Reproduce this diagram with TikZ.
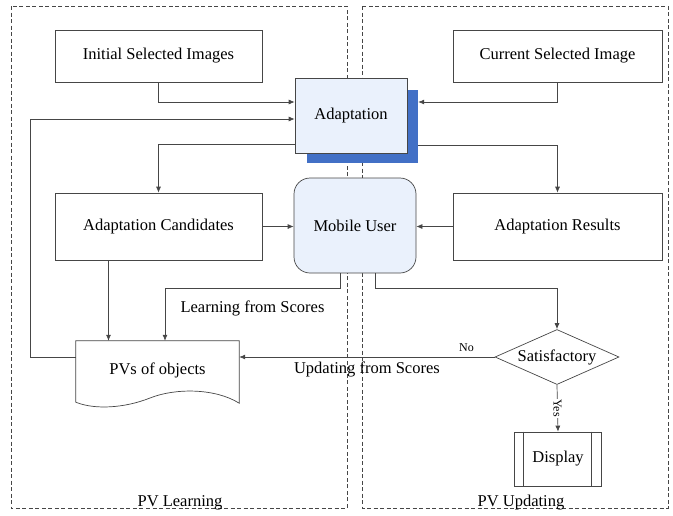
\documentclass[tikz,border=0pt]{standalone}
\usepackage{fontspec}
\setmainfont{Liberation Serif}
\usetikzlibrary{arrows.meta,positioning,calc,shapes.geometric}

\definecolor{linegray}{RGB}{70,70,70}
\definecolor{paleblue}{RGB}{234,241,252}
\definecolor{shadowblue}{RGB}{66,112,198}

\begin{document}
\begin{tikzpicture}[
  x=1pt, y=-1pt,
  >=Latex,
  font=\fontsize{16.5}{19}\selectfont,
  line/.style={-{Latex[length=6pt,width=5pt]}, draw=linegray, line width=0.7pt},
  box/.style={
    draw=linegray, line width=0.7pt, align=center, fill=white,
    minimum width=207pt, minimum height=52pt, inner sep=0pt
  },
  bluebox/.style={
    draw=linegray, line width=0.7pt, align=center, fill=paleblue,
    inner sep=0pt
  },
  region/.style={draw=linegray, dashed, dash pattern=on 4pt off 2.5pt, line width=0.6pt},
  small/.style={font=\fontsize{12}{14}\selectfont}
]
\useasboundingbox (0,0) rectangle (673,515);

% Dashed regions
\draw[region] (11,6) rectangle (347,508);
\draw[region] (362,6) rectangle (668,508);
\node (learnlbl) at (180,503) {PV Learning};
\node (updlbl) at (521,503) {PV Updating};

% Top row
\node[box] (init) at (158.5,56) {Initial Selected Images};
\node[box, minimum width=209pt] (curr) at (557.5,56) {Current Selected Image};

% Adaptation with shadow
\node[fill=shadowblue, minimum width=111pt, minimum height=73pt, inner sep=0pt] (shadow) at (362.5,126.5) {};
\node[bluebox, minimum width=112pt, minimum height=75pt] (adapt) at (351,115.5) {Adaptation};

% Middle row
\node[box, minimum height=67pt] (cand) at (158.5,226.5) {Adaptation Candidates};
\node[bluebox, rounded corners=16pt, minimum width=122pt, minimum height=95pt] (mobile) at (355,225.5) {Mobile User};
\node[box, minimum width=209pt, minimum height=67pt] (result) at (557.5,226.5) {Adaptation Results};

% PVs of objects (document)
\node[minimum width=163pt, minimum height=59pt, inner sep=0pt] (pv) at (157.5,370.5) {};
\draw[draw=linegray, line width=0.7pt, fill=white]
  (pv.north west) -- (pv.north east) -- ([yshift=-3pt]pv.south east)
  .. controls (215,388) and (175,388) .. (150,398)
  .. controls (125,408) and (95,410) .. ([yshift=-2pt]pv.south west) -- cycle;
\node (pvtext) at (pv) {PVs of objects};

% Decision and display
\node[draw=linegray, line width=0.7pt, diamond, aspect=2.3, minimum width=124pt, minimum height=55pt, inner sep=0pt] (sat) at (557,357) {Satisfactory};
\node[box, minimum width=87pt, minimum height=54pt] (disp) at (558,459) {Display};
\draw[draw=linegray, line width=0.7pt] ([xshift=9pt]disp.north west) -- ([xshift=9pt]disp.south west);
\draw[draw=linegray, line width=0.7pt] ([xshift=-11pt]disp.north east) -- ([xshift=-11pt]disp.south east);

% Into adaptation
\draw[line] (init.south) |- ([yshift=13.5pt]adapt.west);
\draw[line] (curr.south) |- ([yshift=24.5pt]shadow.east);
\draw[line] ([yshift=13.5pt]pv.west) -- ++(-45,0) |- ([yshift=-3.5pt]adapt.west);

% Out of adaptation
\draw[line] ([yshift=-28.5pt]adapt.west) -| (cand.north);
\draw[line] ([yshift=-18.5pt]shadow.east) -| (result.north);

% To mobile user
\draw[line] (cand.east) -- (cand.east -| mobile.west);
\draw[line] (result.west) -- (result.west -| mobile.east);

% Scores
\draw[line] ([xshift=-50pt]cand.south) -- ([xshift=-50pt]cand.south |- pv.north);
\draw[line] ([xshift=-15pt]mobile.south) -- ++(0,15)
  -| node[pos=0.25, below=9pt] {Learning from Scores} ([xshift=7.5pt]pv.north);
\draw[line] ([xshift=20pt]mobile.south) -- ++(0,15) -| (sat.north);

% Decision outcomes
\draw[line] (sat.west) -- node[small, pos=0.11, above=2pt] {No}
  node[midway, below=1pt] {Updating from Scores} (sat.west -| pv.east);
\draw[line] (sat.south) -- node[small, midway, rotate=-90, fill=white, inner sep=1pt] {Yes} (disp.north);

\end{tikzpicture}
\end{document}
